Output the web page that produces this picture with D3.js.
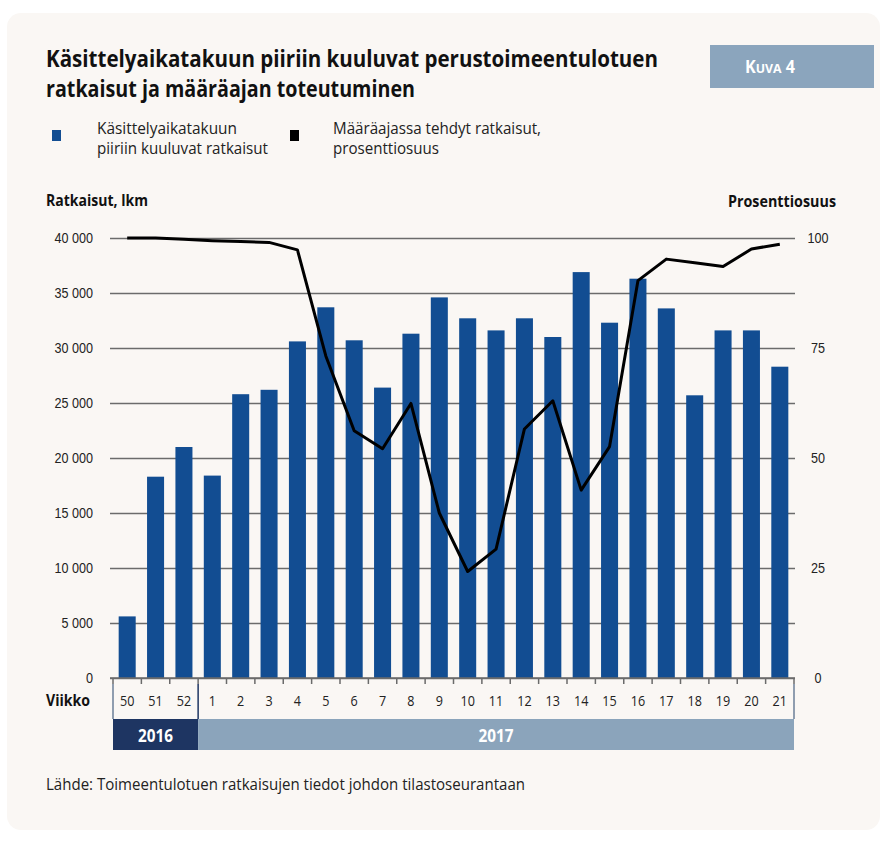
<!DOCTYPE html>
<html><head><meta charset="utf-8">
<script src="https://cdn.jsdelivr.net/npm/d3@7"></script>
<style>
html,body{margin:0;padding:0;background:#fff;}
svg{display:block;font-family:"Open Sans",sans-serif;}
</style></head>
<body><svg id="c" width="887" height="848"></svg>
<script>
const weeks = ["50","51","52","1","2","3","4","5","6","7","8","9","10","11","12","13","14","15","16","17","18","19","20","21"];
const years = [{label:"2016", from:"50", to:"52"},{label:"2017", from:"1", to:"21"}];
const decisions = [5600,18300,21000,18400,25800,26200,30600,33700,30700,26400,31300,34600,32700,31600,32700,31000,36900,32300,36300,33600,25700,31600,31600,28300];
const pctOnTime = [100,100,99.7,99.4,99.2,99.0,97.3,73.2,56.2,52.1,62.4,37.5,24.2,29.3,56.6,63.0,42.7,52.6,90.3,95.2,94.4,93.5,97.5,98.6];
const leftTicks = [0,5000,10000,15000,20000,25000,30000,35000,40000];
const rightTicks = [0,25,50,75,100];
const title = ["Käsittelyaikatakuun piiriin kuuluvat perustoimeentulotuen","ratkaisut ja määräajan toteutuminen"];
const legendItems = [{lines:["Käsittelyaikatakuun","piiriin kuuluvat ratkaisut"], color:"#124d92"},{lines:["Määräajassa tehdyt ratkaisut,","prosenttiosuus"], color:"#000"}];
const source = "Lähde: Toimeentulotuen ratkaisujen tiedot johdon tilastoseurantaan";

const svg = d3.select("#c");
// squeeze text to a target width (reference uses a condensed face)
function fit(sel, w){ sel.attr("textLength", w).attr("lengthAdjust","spacingAndGlyphs"); return sel; }

svg.append("rect").attr("x",7).attr("y",13).attr("width",873).attr("height",817).attr("rx",14).attr("fill","#faf7f4");

// title
const titleW = [612,369];
title.forEach((t,i)=>{
  fit(svg.append("text").attr("x",46).attr("y",67+i*30).attr("font-size",23).attr("font-weight","bold").attr("fill","#111").text(t), titleW[i]);
});
// Kuva box
svg.append("rect").attr("x",710).attr("y",45).attr("width",164).attr("height",43).attr("fill","#8ba5bd");
const kv = svg.append("text").attr("x",745).attr("y",73).attr("fill","#fff").attr("font-weight","bold").attr("font-size",17);
kv.append("tspan").text("K");
kv.append("tspan").attr("font-size",13).text("UVA");
kv.append("tspan").text(" 4");
fit(kv, 50);

// legend
const lx=[52,290], tx=[97,333], lw=[[140,171],[208,106]];
legendItems.forEach((d,i)=>{
  svg.append("rect").attr("x",lx[i]).attr("y",130).attr("width",9).attr("height",11).attr("fill",d.color);
  d.lines.forEach((l,j)=>fit(svg.append("text").attr("x",tx[i]).attr("y",134+j*20).attr("font-size",16).attr("fill","#222").text(l), lw[i][j]));
});

fit(svg.append("text").attr("x",46).attr("y",206).attr("font-size",15.5).attr("font-weight","bold").attr("fill","#111").text("Ratkaisut, lkm"),102);
fit(svg.append("text").attr("x",728).attr("y",207).attr("font-size",15.5).attr("font-weight","bold").attr("fill","#111").text("Prosenttiosuus"),108);

const x = d3.scaleBand().domain(weeks).range([113,794]).paddingInner(0.4).paddingOuter(0.2);
const yL = d3.scaleLinear().domain([0,40000]).range([678,238]);
const yR = d3.scaleLinear().domain([0,100]).range([678,238]);

// gridlines
const grid = svg.append("g").attr("transform","translate(110,0)")
  .call(d3.axisRight(yL).tickValues(leftTicks).tickSize(685).tickFormat(""));
grid.select(".domain").remove();
grid.selectAll("line").attr("stroke","#6b6b6b").attr("stroke-width",1.6);

// left axis labels
const fmt = v => d3.format(",")(v).replace(/,/g," ");
const la = svg.append("g").attr("transform","translate(93,0)").call(d3.axisLeft(yL).tickValues(leftTicks).tickSize(0).tickPadding(0).tickFormat(fmt));
la.select(".domain").remove();
la.selectAll("text").attr("font-size",14).attr("fill","#222").attr("font-family",null)
  .attr("transform","scale(0.9,1)").attr("x",0);
la.selectAll(".tick text").each(function(){ d3.select(this).attr("transform","translate(0,0) scale(0.9,1)"); });

const ra = svg.append("g").attr("transform","translate(818,0)").call(d3.axisRight(yR).tickValues(rightTicks).tickSize(0).tickPadding(0));
ra.select(".domain").remove();
ra.selectAll("text").attr("text-anchor","middle").attr("font-size",14).attr("fill","#222").attr("font-family",null).attr("transform","scale(0.9,1)");

// bars
svg.append("g").selectAll("rect").data(weeks).join("rect")
  .attr("x",d=>x(d)).attr("width",x.bandwidth())
  .attr("y",(d,i)=>yL(decisions[i])).attr("height",(d,i)=>yL(0)-yL(decisions[i]))
  .attr("fill","#124d92");

// baseline ticks
const step = x.step(), off = x.paddingInner()*step/2;
const tickXs = weeks.map(w=>x(w)-off).concat([x(weeks[weeks.length-1])+x.bandwidth()+off]);
svg.append("g").selectAll("line").data(tickXs).join("line")
  .attr("x1",d=>d).attr("x2",d=>d).attr("y1",678).attr("y2",684).attr("stroke","#6b6b6b").attr("stroke-width",1.5);
svg.append("line").attr("x1",110).attr("x2",795).attr("y1",678).attr("y2",678).attr("stroke","#6b6b6b").attr("stroke-width",1.6);

// line
const line = d3.line().x((d,i)=>x(weeks[i])+x.bandwidth()/2).y(d=>yR(d));
svg.append("path").datum(pctOnTime).attr("d",line).attr("fill","none").attr("stroke","#000").attr("stroke-width",3).attr("stroke-linejoin","round");

// week labels
svg.append("g").selectAll("text").data(weeks).join("text")
  .attr("transform",d=>`translate(${x(d)+x.bandwidth()/2},706) scale(0.9,1)`)
  .attr("text-anchor","middle").attr("font-size",14).attr("fill","#222").text(d=>d);
fit(svg.append("text").attr("x",46).attr("y",706).attr("font-size",15.5).attr("font-weight","bold").attr("fill","#111").text("Viikko"),44);

// year bands
const yb = svg.append("g");
years.forEach((y,i)=>{
  const x0 = x(y.from)-off, x1 = x(y.to)+x.bandwidth()+off;
  yb.append("rect").attr("x",x0).attr("y",719).attr("width",x1-x0).attr("height",31).attr("fill",i===0?"#1e3562":"#8ba4bb");
  yb.append("text").attr("transform",`translate(${(x0+x1)/2},742) scale(0.85,1)`).attr("text-anchor","middle").attr("fill","#fff").attr("font-weight","bold").attr("font-size",18).text(y.label);
});
// dividers
const divs = [x(years[0].from)-off, x(years[1].from)-off, x(years[1].to)+x.bandwidth()+off];
svg.append("g").selectAll("line").data(divs).join("line")
  .attr("x1",d=>d).attr("x2",d=>d).attr("y1",684).attr("y2",719).attr("stroke",(d,i)=>i===1?"#1e3562":"#6b7f99").attr("stroke-width",1.5);

fit(svg.append("text").attr("x",46).attr("y",790).attr("font-size",15.5).attr("fill","#222").text(source),479);
</script></body></html>
